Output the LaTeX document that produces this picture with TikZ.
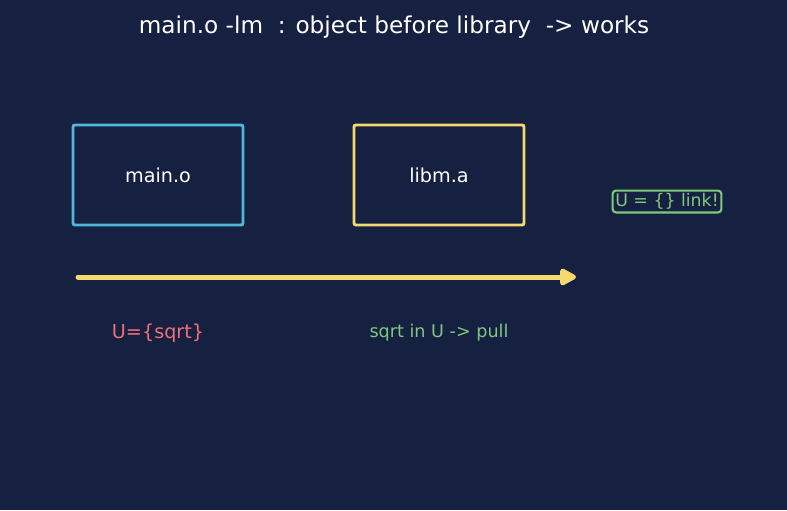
\documentclass[tikz,border=0pt]{standalone}
\usepackage{fontspec}
\setmainfont{DejaVu Sans}
\usetikzlibrary{arrows.meta,positioning}
\definecolor{bgnavy}{HTML}{162040}
\definecolor{objcyan}{HTML}{4FB8DA}
\definecolor{libyellow}{HTML}{F5D86E}
\definecolor{okgreen}{HTML}{7FC97F}
\definecolor{undefred}{HTML}{F0707A}

\begin{document}
\begin{tikzpicture}[
  x=0.75pt, y=-0.75pt,
  font=\fontsize{14.4}{16}\selectfont,
  file/.style={
    draw, line width=2.2pt, rounded corners=1.5pt,
    minimum width=127.5pt, minimum height=75pt,
    inner sep=0pt, text=white
  },
  note/.style={font=\fontsize{13.2}{15}\selectfont, inner sep=1pt},
  tag/.style={
    draw=okgreen, line width=1.6pt, rounded corners=2.5pt,
    text=okgreen, font=\fontsize{13}{15}\selectfont,
    inner xsep=2pt, inner ysep=2.2pt
  },
  scan/.style={
    -{Triangle[round, length=14pt, width=14pt]},
    line width=3.75pt, line cap=round, draw=libyellow
  }
]
  % background and frame
  \fill[bgnavy] (0,0) rectangle (787,510);
  \useasboundingbox (0,0) rectangle (787,510);

  % title
  \node[text=white, font=\fontsize{17.4}{20}\selectfont] (title) at (394,27)
    {main.o -lm\ \ : object before library\ \ -> works};

  % command-line order
  \node[file, draw=objcyan] (obj) at (158,175) {main.o};
  \node[file, draw=libyellow] (lib) at (439,175) {libm.a};

  % link result
  \node[tag] (done) at (667,201.5) {U = \{\} link!};

  % scan direction
  \coordinate (scanstart) at (78,277);
  \coordinate (scanend) at (576,277);
  \draw[scan] (scanstart) -- (scanend);

  % undefined set per step
  \node[text=undefred] (uset) at (158,333) {U=\{sqrt\}};
  \node[note, text=okgreen] (pull) at (439,333) {sqrt in U -> pull};
\end{tikzpicture}
\end{document}
